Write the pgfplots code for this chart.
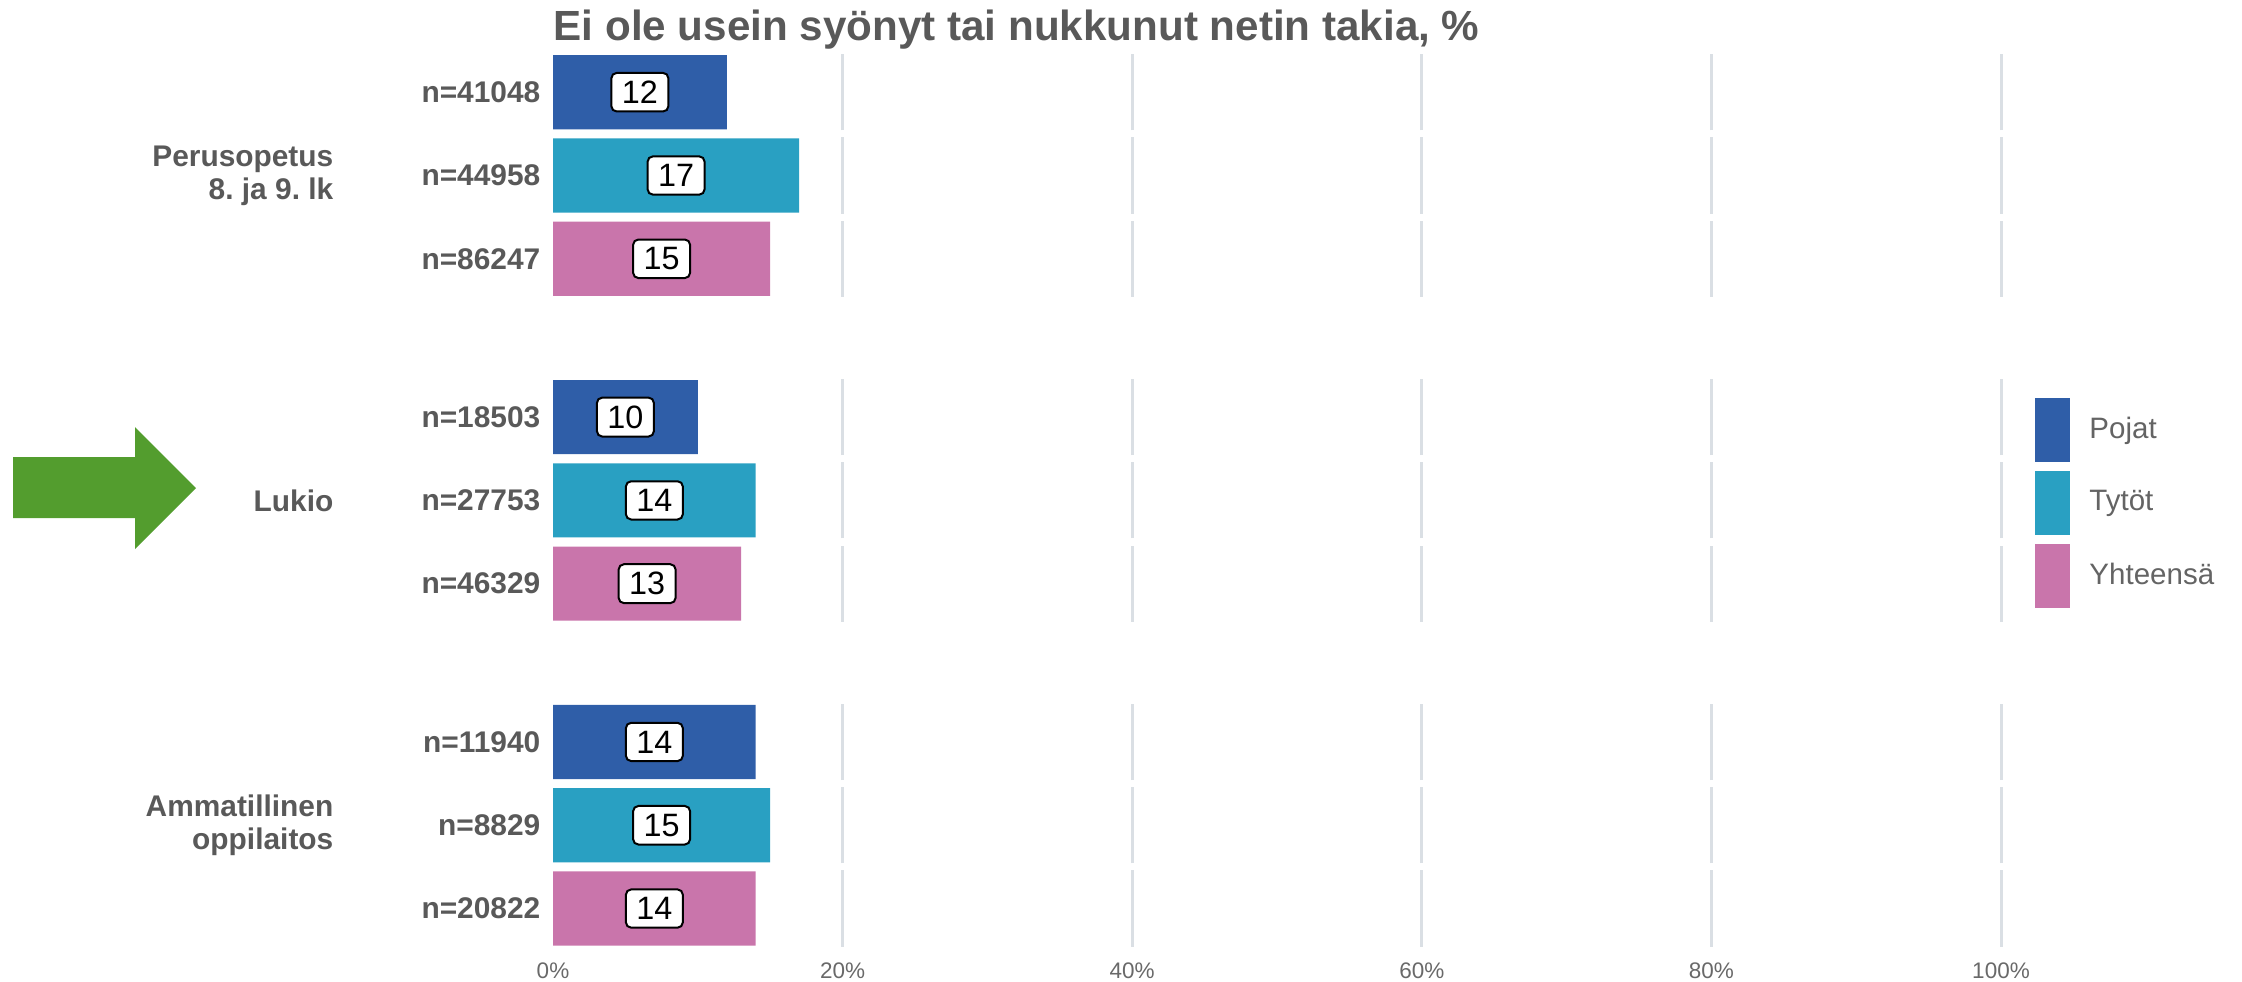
\documentclass[border=0pt]{standalone}
\usepackage{pgfplots}
\pgfplotsset{compat=1.18}
\usepackage{fontspec}
\setmainfont{Liberation Sans}
\definecolor{cPoj}{RGB}{47,94,168}
\definecolor{cTyt}{RGB}{41,160,194}
\definecolor{cYht}{RGB}{201,117,171}
\definecolor{cGrid}{RGB}{218,223,228}
\definecolor{cTxt}{RGB}{89,89,89}
\definecolor{cTick}{RGB}{105,105,105}
\definecolor{cLeg}{RGB}{100,100,100}
\definecolor{cArrow}{RGB}{83,157,46}
\pgfkeys{/pgf/number format/assume math mode=true}
\pgfplotsset{
  lblbar/.style={
    xbar, bar width=0.89, bar shift=0pt, draw=none, forget plot,
    point meta=x, nodes near coords,
    visualization depends on={rawx \as \rawx},
    nodes near coords style={anchor=center, xshift=-\rawx*0.724mm,
      fill=white, draw=black, line width=0.2mm, rounded corners=1.5pt,
      inner xsep=1.05mm, inner ysep=0.8mm, text=black,
      font=\fontsize{9.2}{10}\selectfont}
  }
}
\begin{document}
\frenchspacing
\begin{tikzpicture}
\path (0,0) rectangle (224.2mm,-98.1mm);
\fill[cArrow] (1.3mm,-45.7mm) -- (13.5mm,-45.7mm) -- (13.5mm,-42.7mm) -- (19.6mm,-48.8mm) -- (13.5mm,-54.9mm) -- (13.5mm,-51.8mm) -- (1.3mm,-51.8mm) -- cycle;
\begin{axis}[
  at={(55.3mm,-9.22mm)}, anchor=origin,
  x=1.448mm, y=8.33mm,
  xmin=0, xmax=100, ymin=-10.3, ymax=0.55,
  clip=false,
  axis line style={draw=none},
  major tick style={draw=none},
  xtick={0,20,40,60,80,100},
  xticklabels={0\%,20\%,40\%,60\%,80\%,100\%},
  xticklabel style={font=\fontsize{6.4}{7.5}\selectfont, text=cTick, inner sep=0pt, anchor=north, yshift=-1.2mm},
  ytick={-9.8,-8.8,-7.8,-5.9,-4.9,-3.9,-2,-1,0},
  yticklabels={{n=20822},{n=8829},{n=11940},{n=46329},{n=27753},{n=18503},{n=86247},{n=44958},{n=41048}},
  yticklabel style={font=\bfseries\fontsize{8.5}{10}\selectfont, text=cTxt, inner sep=0pt, anchor=east, xshift=-1.2mm},
  legend style={at={(axis cs:102.35,-3.671)}, anchor=north west, draw=none, fill=none,
    inner sep=0pt, outer sep=0pt, row sep=0.85mm, column sep=1.9mm,
    font=\fontsize{8.4}{10}\selectfont, text=cLeg, nodes={inner sep=0pt}},
  legend cell align=left,
]
\pgfplotsinvokeforeach{0,-1,-2,-3.9,-4.9,-5.9,-7.8,-8.8,-9.8}{
  \draw[cGrid, line width=0.3mm]
    (axis cs:20,#1-0.457) -- (axis cs:20,#1+0.457)
    (axis cs:40,#1-0.457) -- (axis cs:40,#1+0.457)
    (axis cs:60,#1-0.457) -- (axis cs:60,#1+0.457)
    (axis cs:80,#1-0.457) -- (axis cs:80,#1+0.457)
    (axis cs:100,#1-0.457) -- (axis cs:100,#1+0.457);
}
\addplot[lblbar, fill=cPoj] coordinates {(12,0) (10,-3.9) (14,-7.8)};
\addplot[lblbar, fill=cTyt] coordinates {(17,-1) (14,-4.9) (15,-8.8)};
\addplot[lblbar, fill=cYht] coordinates {(15,-2) (13,-5.9) (14,-9.8)};
\addlegendimage{legend image code/.code={\fill[cPoj] (0mm,-3.15mm) rectangle (3.4mm,3.15mm);}}
\addlegendentry{Pojat}
\addlegendimage{legend image code/.code={\fill[cTyt] (0mm,-3.15mm) rectangle (3.4mm,3.15mm);}}
\addlegendentry{Tytöt}
\addlegendimage{legend image code/.code={\fill[cYht] (0mm,-3.15mm) rectangle (3.4mm,3.15mm);}}
\addlegendentry{Yhteensä}
\end{axis}
\node[anchor=base west, inner sep=0pt, font=\bfseries\fontsize{12}{14}\selectfont, text=cTxt] at (55.3mm,-4.0mm) {Ei ole usein syönyt tai nukkunut netin takia, \%};
\node[anchor=east, align=right, inner sep=0pt, font=\bfseries\fontsize{8.5}{9.4}\selectfont, text=cTxt] at (33.4mm,-17.55mm) {Perusopetus\\8. ja 9. lk};
\node[anchor=east, align=right, inner sep=0pt, font=\bfseries\fontsize{8.5}{9.4}\selectfont, text=cTxt] at (33.4mm,-50.05mm) {Lukio};
\node[anchor=east, align=right, inner sep=0pt, font=\bfseries\fontsize{8.5}{9.4}\selectfont, text=cTxt] at (33.4mm,-82.55mm) {Ammatillinen\\oppilaitos};
\end{tikzpicture}
\end{document}
